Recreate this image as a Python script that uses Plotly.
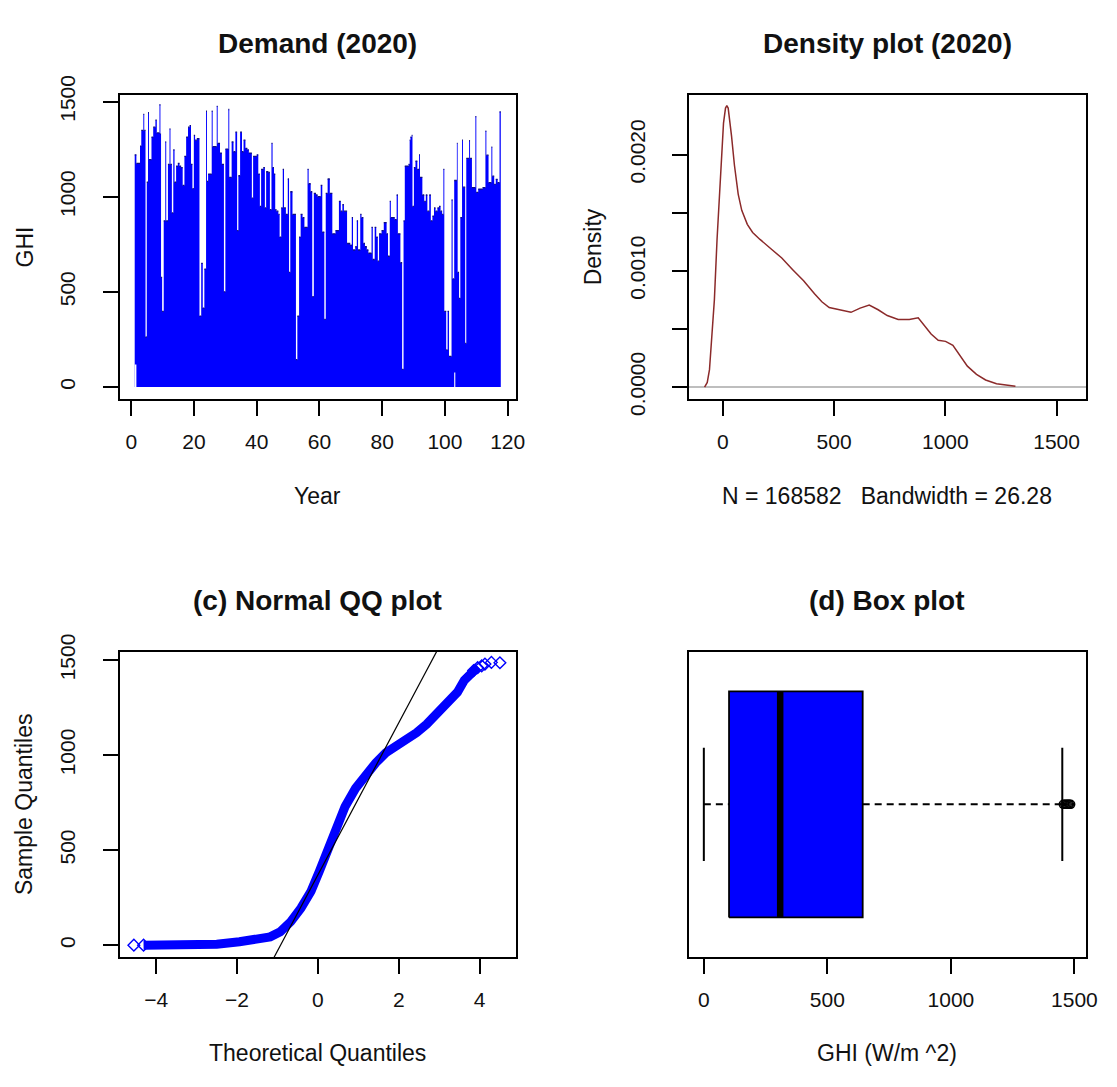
import plotly.graph_objects as go

W, H = 1117, 1087
FONT = "Liberation Sans, Arial, sans-serif"

# ---------------- (a) GHI series: upper envelope as steps (start x, value) ----------------
seg_x = [1.10, 1.64, 2.80, 3.20, 3.85, 4.15, 4.55, 4.95, 5.35, 5.65,
         6.45, 7.00, 7.70, 8.15, 9.00, 9.30, 9.50, 9.85, 10.35, 10.85,
         11.15, 11.70, 12.20, 12.50, 12.95, 13.40, 13.80, 14.30, 14.85, 15.40,
         15.90, 16.40, 16.95, 17.50, 18.10, 18.60, 19.05, 19.50, 19.95, 20.35,
         20.90, 21.75, 22.30, 22.80, 23.30, 23.85, 24.15, 24.50, 25.65, 25.95,
         27.25, 27.55, 28.30, 28.90, 29.55, 30.00, 30.95, 31.25, 32.00, 32.60,
         33.20, 33.75, 34.15, 34.70, 35.30, 35.80, 36.40, 37.00, 37.50, 38.45,
         38.85, 40.00, 40.50, 41.00, 41.40, 42.10, 42.60, 43.00, 43.70, 44.20,
         44.70, 45.05, 45.50, 45.90, 46.30, 46.90, 47.30, 47.80, 48.30, 48.70,
         49.30, 49.90, 50.30, 50.70, 51.40, 52.50, 52.95, 53.50, 54.00, 54.60,
         55.20, 56.20, 56.55, 57.20, 57.70, 58.20, 58.90, 59.40, 60.40, 60.90,
         61.55, 62.00, 62.60, 63.30, 64.10, 65.10, 66.20, 66.80, 67.30, 67.80,
         68.80, 69.80, 70.30, 70.70, 71.40, 71.90, 72.30, 73.00, 73.40, 74.00,
         74.50, 75.10, 75.60, 76.60, 77.00, 77.60, 78.10, 78.60, 79.00, 79.80,
         80.50, 81.40, 81.85, 82.40, 82.75, 84.00, 84.60, 85.00, 85.80, 86.35,
         86.80, 87.20, 88.40, 88.75, 89.00, 89.40, 89.65, 90.10, 90.60, 91.20,
         91.75, 92.05, 92.80, 93.40, 93.90, 94.40, 95.00, 95.50, 96.00, 96.50,
         97.00, 97.60, 98.10, 98.60, 99.10, 99.50, 99.80, 100.40, 100.85, 101.30,
         102.10, 102.45, 102.95, 103.80, 104.05, 104.50, 104.90, 105.45, 105.75, 106.45,
         106.80, 107.70, 108.00, 108.60, 109.70, 110.00, 110.60, 112.00, 112.90, 113.20,
         113.90, 114.80, 115.10, 115.70, 116.20, 116.80, 117.40]
seg_y = [1220, 1175, 1266, 1348, 1432, 1348, 263, 1076, 1441, 1195,
         1313, 1365, 1402, 1335, 1483, 1330, 576, 398, 873, 1288,
         873, 1170, 1356, 1170, 915, 1246, 1076, 1161, 1175, 1161,
         1153, 1059, 1212, 1313, 1365, 1373, 1170, 1042, 1322, 1297,
         1305, 373, 650, 415, 620, 1449, 1080, 1119, 1449, 1263,
         1475, 1280, 1229, 1170, 500, 1250, 1458, 1102, 1288, 1236,
         1339, 822, 1110, 1339, 1236, 1297, 1254, 1246, 1229, 992,
         1212, 1220, 1119, 949, 1144, 1153, 941, 1131, 1127, 932,
         1280, 1153, 1119, 932, 924, 907, 788, 941, 1144, 941,
         907, 1093, 602, 1026, 907, 144, 373, 788, 907, 890,
         839, 1144, 1068, 1026, 475, 1017, 1009, 1000, 1059, 814,
         356, 1017, 1093, 1017, 805, 822, 975, 924, 958, 924,
         754, 746, 890, 720, 737, 873, 720, 907, 890, 754,
         737, 720, 703, 839, 670, 839, 788, 661, 805, 822,
         864, 805, 687, 975, 890, 880, 1009, 805, 653, 93,
         873, 1161, 1170, 1297, 1313, 1322, 949, 1153, 1187, 1144,
         1220, 1102, 1009, 975, 1009, 924, 1009, 873, 898, 941,
         924, 941, 949, 924, 907, 1144, 398, 195, 398, 161,
         983, 568, 1085, 1280, 602, 466, 890, 1297, 1050, 229,
         1201, 1294, 1201, 1048, 1421, 1023, 1040, 1048, 1345, 1218,
         1074, 1260, 1108, 1065, 1091, 1074, 1446]
series_end = 117.8
# stretches where the night-time minimum stays above zero
gap_start = [1.10, 102.95]
gap_end = [1.64, 103.30]
gap_floor = [119, 76]

# ---------------- (b) density ----------------
dens_x = [-82, -70, -60, -50, -38, -26, -16, -7, 3, 12, 18, 24, 30, 39, 52, 69, 85, 110, 134, 167,
          216, 265, 314, 363, 412, 445, 478, 527, 576, 617, 658, 698, 739, 788, 838, 878, 903, 936,
          968, 1001, 1034, 1067, 1099, 1140, 1181, 1230, 1279, 1315]
dens_y = [0.0, 0.00004, 0.00015, 0.00039, 0.00075, 0.00127, 0.00161, 0.00199, 0.00227, 0.00240,
          0.00242, 0.00240, 0.00232, 0.00216, 0.00191, 0.00166, 0.00152, 0.00140, 0.00133, 0.00127,
          0.00119, 0.00111, 0.00101, 0.000914, 0.000803, 0.000734, 0.000684, 0.000665, 0.000643,
          0.000679, 0.000706, 0.000665, 0.000615, 0.000582, 0.000582, 0.000596, 0.00054, 0.000457,
          0.000402, 0.000393, 0.00036, 0.000263, 0.00018, 0.00011, 0.000061, 0.000028, 0.000014, 0.000008]
dens_n = 168582
dens_bw = 26.28

# ---------------- (c) QQ ----------------
qq_theo = [-4.31, -3.5, -3.0, -2.5, -1.94, -1.43, -1.18, -0.93, -0.67, -0.42, -0.17, 0.04, 0.25, 0.46,
           0.67, 0.93, 1.18, 1.43, 1.68, 1.94, 2.19, 2.44, 2.69, 2.95, 3.20, 3.45, 3.62, 3.79, 3.96]
qq_sample = [0, 1, 2, 5, 18, 30, 44, 71, 124, 195, 284, 391, 506, 612,
             728, 825, 896, 959, 1012, 1047, 1074, 1118, 1163, 1216, 1269, 1331, 1394, 1438, 1465]
qq_tail_theo = [-4.55, -4.31, 3.85, 3.95, 4.05, 4.13, 4.29, 4.50]
qq_tail_sample = [0, 0, 1445, 1460, 1470, 1479, 1488, 1486]
qq_q1, qq_q3 = 100, 640
z75 = 0.6745

# ---------------- (d) box plot ----------------
bx_q1, bx_med, bx_q3 = 102, 309, 643
bx_lo, bx_hi = 0, 1451
bx_out = [1455, 1461, 1466, 1471, 1476, 1480, 1485]

BLUE = "#0000ff"


def px(x):
    return x / W


def py(y):
    return 1 - y / H


fig = go.Figure()

# (a) series drawn as a filled step envelope, dark top edges
xs = seg_x + [series_end]
fig.add_trace(go.Scatter(x=xs, y=seg_y + [seg_y[-1]], mode="lines",
                         line=dict(shape="hv", color=BLUE, width=0),
                         fill="tozeroy", fillcolor=BLUE, xaxis="x", yaxis="y", hoverinfo="skip"))
top_x, top_y = [], []
for i, v in enumerate(seg_y):
    top_x += [xs[i], xs[i + 1], None]
    top_y += [v, v, None]
fig.add_trace(go.Scatter(x=top_x, y=top_y, mode="lines", line=dict(color="#101080", width=1.3),
                         xaxis="x", yaxis="y", hoverinfo="skip"))
for s, e, f in zip(gap_start, gap_end, gap_floor):
    fig.add_trace(go.Scatter(x=[s, e], y=[f, f], mode="lines", line=dict(width=0, color="white"),
                             fill="tozeroy", fillcolor="white", xaxis="x", yaxis="y", hoverinfo="skip"))

# (b) density
fig.add_trace(go.Scatter(x=dens_x, y=dens_y, mode="lines", line=dict(color="#8b2a2a", width=1.5),
                         xaxis="x2", yaxis="y2", hoverinfo="skip"))

# (c) QQ
fig.add_trace(go.Scatter(x=qq_theo, y=qq_sample, mode="lines",
                         line=dict(color=BLUE, width=9), xaxis="x3", yaxis="y3", hoverinfo="skip"))
fig.add_trace(go.Scatter(x=qq_tail_theo, y=qq_tail_sample, mode="markers",
                         marker=dict(symbol="diamond-open", size=9, color=BLUE, line=dict(width=1.4)),
                         xaxis="x3", yaxis="y3", hoverinfo="skip"))
slope = (qq_q3 - qq_q1) / (2 * z75)
inter = (qq_q1 + qq_q3) / 2
lx = [min(qq_tail_theo), max(qq_tail_theo)]
fig.add_trace(go.Scatter(x=lx, y=[inter + slope * v for v in lx], mode="lines",
                         line=dict(color="black", width=1.2), xaxis="x3", yaxis="y3", hoverinfo="skip"))

# (d) box plot
c, hb, hc = 1.0, 0.4, 0.2
fig.add_trace(go.Scatter(x=[bx_lo, bx_q1], y=[c, c], mode="lines",
                         line=dict(color="black", width=2, dash="7px,5px"), xaxis="x4", yaxis="y4"))
fig.add_trace(go.Scatter(x=[bx_q3, bx_hi], y=[c, c], mode="lines",
                         line=dict(color="black", width=2, dash="7px,5px"), xaxis="x4", yaxis="y4"))
for v in (bx_lo, bx_hi):
    fig.add_trace(go.Scatter(x=[v, v], y=[c - hc, c + hc], mode="lines",
                             line=dict(color="black", width=2), xaxis="x4", yaxis="y4"))
fig.add_trace(go.Scatter(x=[bx_q1, bx_q3, bx_q3, bx_q1, bx_q1], y=[c - hb, c - hb, c + hb, c + hb, c - hb],
                         mode="lines", fill="toself", fillcolor=BLUE, line=dict(color="black", width=1.8),
                         xaxis="x4", yaxis="y4"))
fig.add_trace(go.Scatter(x=[bx_med, bx_med], y=[c - hb, c + hb], mode="lines",
                         line=dict(color="black", width=6.5), xaxis="x4", yaxis="y4"))
fig.add_trace(go.Scatter(x=bx_out, y=[c] * len(bx_out), mode="markers",
                         marker=dict(symbol="circle-open", size=8, color="black", line=dict(width=1.5)),
                         xaxis="x4", yaxis="y4"))

# ---------------- axes ----------------
L_A, R_A = 121, 521.7
L_B, R_B = 696.5, 1097.3
T_1, B_1 = 77.5, 392
T_2, B_2 = 654, 970

common = dict(showline=True, linecolor="black", linewidth=1.8, mirror=True, ticks="outside",
              ticklen=15, tickwidth=1.8, tickcolor="black", showgrid=False, zeroline=False,
              tickfont=dict(family=FONT, size=21, color="#111"), fixedrange=True)
xcommon = dict(common, ticklabelstandoff=8)
ycommon = dict(common, tickangle=-90, ticklabelstandoff=19)

fig.update_layout(
    width=W, height=H, margin=dict(l=0, r=0, t=0, b=0), showlegend=False, autosize=False,
    paper_bgcolor="white", plot_bgcolor="white",
    xaxis=dict(xcommon, domain=[px(L_A), px(R_A)], range=[-3.68, 122.68], tickvals=[0, 20, 40, 60, 80, 100, 120], anchor="y"),
    yaxis=dict(ycommon, domain=[py(B_1), py(T_1)], range=[-61, 1535], tickvals=[0, 500, 1000, 1500], anchor="x"),
    xaxis2=dict(xcommon, domain=[px(L_B), px(R_B)], range=[-152, 1630], tickvals=[0, 500, 1000, 1500], anchor="y2"),
    yaxis2=dict(ycommon, domain=[py(B_1), py(T_1)], range=[-0.0000997, 0.0025135],
                tickvals=[0, 0.0005, 0.001, 0.0015, 0.002], ticktext=["0.0000", "", "0.0010", "", "0.0020"],
                zeroline=True, zerolinecolor="#bebebe", zerolinewidth=1.5, anchor="x2"),
    xaxis3=dict(xcommon, domain=[px(L_A), px(R_A)], range=[-4.9, 4.9], tickvals=[-4, -2, 0, 2, 4], anchor="y3"),
    yaxis3=dict(ycommon, domain=[py(B_2), py(T_2)], range=[-62, 1544], tickvals=[0, 500, 1000, 1500], anchor="x3"),
    xaxis4=dict(xcommon, domain=[px(L_B), px(R_B)], range=[-60, 1545], tickvals=[0, 500, 1000, 1500], anchor="y4"),
    yaxis4=dict(common, domain=[py(B_2), py(T_2)], range=[0.46, 1.54], ticks="", showticklabels=False, anchor="x4"),
)

cA = (L_A + R_A) / 2
cB = (L_B + R_B) / 2
anns = [
    ("<b>Demand (2020)</b>", cA, 24, 28, 0),
    ("<b>Density plot (2020)</b>", cB, 24, 28, 0),
    ("<b>(c) Normal QQ plot</b>", cA, 600.5, 28, 0),
    ("<b>(d) Box plot</b>", cB, 600.5, 28, 0),
    ("Year", cA, 493, 23, 0),
    ("N = %d\u00a0\u00a0\u00a0Bandwidth = %.2f" % (dens_n, dens_bw), cB, 493, 23, 0),
    ("Theoretical Quantiles", cA, 1069, 23, 0),
    ("GHI (W/m ^2)", cB, 1069, 23, 0),
    ("GHI", 25, (T_1 + B_1) / 2, 23, -90),
    ("Density", 599, (T_1 + B_1) / 2, 23, -90),
    ("Sample Quantiles", 25, (T_2 + B_2) / 2, 23, -90),
]
fig.update_layout(annotations=[
    dict(text=t, x=px(x), y=py(y), xref="paper", yref="paper", xanchor="center", yanchor="middle",
         showarrow=False, textangle=a, font=dict(family=FONT, size=s, color="#111"))
    for (t, x, y, s, a) in anns
])

fig.write_html("out.html")
